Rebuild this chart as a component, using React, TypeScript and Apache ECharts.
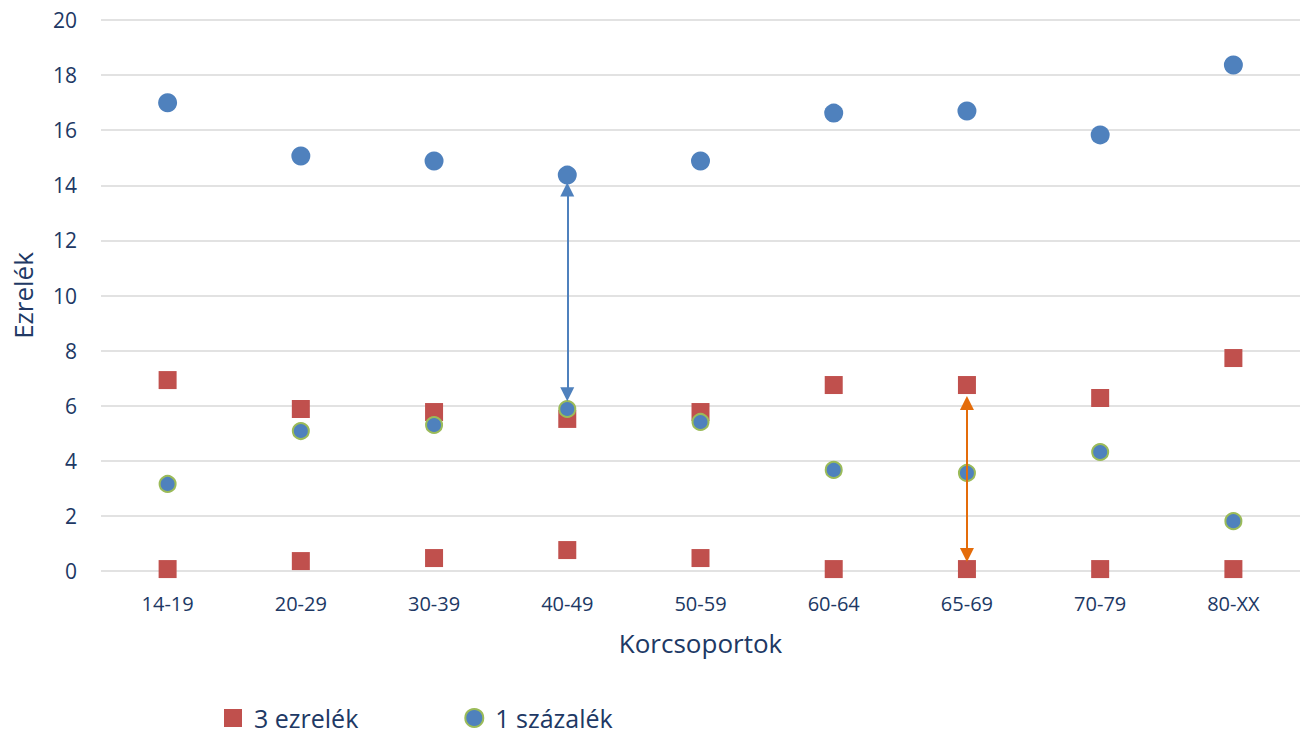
import React, { useEffect, useRef } from "react";
import * as echarts from "echarts";

const categories = ["14-19", "20-29", "30-39", "40-49", "50-59", "60-64", "65-69", "70-79", "80-XX"];
const ezrelekUpper = [6.93, 5.88, 5.77, 5.52, 5.77, 6.75, 6.75, 6.28, 7.73];
const ezrelekLower = [0.07, 0.36, 0.47, 0.76, 0.47, 0.07, 0.07, 0.07, 0.07];
const szazalekUpper = [17.0, 15.06, 14.88, 14.37, 14.88, 16.62, 16.7, 15.83, 18.37];
const szazalekLower = [3.16, 5.08, 5.3, 5.88, 5.41, 3.67, 3.56, 4.32, 1.81];
// arrow endpoints (centres of the arrow heads)
const blueArrow = { category: "40-49", from: 13.85, to: 6.42 };
const orangeArrow = { category: "65-69", from: 6.1, to: 0.58 };

const TEXT = "#203864";
const FONT = "'Open Sans', 'Noto Sans', sans-serif";

export default function App() {
  const ref = useRef<HTMLDivElement>(null);
  useEffect(() => {
    if (!ref.current) return;
    const chart = echarts.init(ref.current, undefined, { renderer: "svg" });
    const arrowLine = (a: any, color: string) => ({
      silent: true,
      symbol: ["triangle", "triangle"],
      symbolSize: [14, 14],
      label: { show: false },
      emphasis: { disabled: true },
      lineStyle: { color, width: 2, type: "solid", opacity: 1 },
      data: [[{ coord: [a.category, a.from] }, { coord: [a.category, a.to] }]],
    });
    chart.setOption({
      animation: false,
      textStyle: { fontFamily: FONT },
      grid: { left: 101, right: 0, top: 20, bottom: 165, containLabel: false },
      xAxis: {
        type: "category",
        data: categories,
        name: "Korcsoportok",
        nameLocation: "middle",
        nameGap: 59,
        nameTextStyle: { color: TEXT, fontSize: 26, fontFamily: FONT },
        axisLine: { show: false },
        axisTick: { show: false },
        axisLabel: { color: TEXT, fontSize: 20, margin: 22, fontFamily: FONT },
      },
      yAxis: {
        type: "value",
        min: 0,
        max: 20,
        interval: 2,
        name: "Ezrelék",
        nameLocation: "middle",
        nameGap: 65,
        nameTextStyle: { color: TEXT, fontSize: 26, fontFamily: FONT },
        axisLabel: { color: TEXT, fontSize: 21, margin: 24, fontFamily: FONT },
        splitLine: { lineStyle: { color: "#D9D9D9", width: 1.5 } },
        axisLine: { show: false },
        axisTick: { show: false },
      },
      legend: {
        left: 224,
        top: 704,
        itemWidth: 18,
        itemHeight: 18,
        itemGap: 106,
        padding: 0,
        data: ["3 ezrelék", "1 százalék"],
        textStyle: { color: TEXT, fontSize: 25, lineHeight: 28, fontFamily: FONT, padding: [0, 0, 0, 7] },
      },
      series: [
        {
          name: "3 ezrelék",
          type: "scatter",
          symbol: "rect",
          symbolSize: 18,
          itemStyle: { color: "#C0504D", opacity: 1 },
          data: ezrelekUpper,
        },
        {
          name: "3 ezrelék",
          type: "scatter",
          symbol: "rect",
          symbolSize: 18,
          itemStyle: { color: "#C0504D", opacity: 1 },
          data: ezrelekLower,
          markLine: arrowLine(orangeArrow, "#E46C0A"),
        },
        {
          name: "1 százalék",
          type: "scatter",
          symbol: "circle",
          symbolSize: 16,
          itemStyle: { color: "#4F81BD", borderColor: "#9BBB59", borderWidth: 2, opacity: 1 },
          data: szazalekLower,
        },
        {
          name: "1 százalék (felső)",
          type: "scatter",
          symbol: "circle",
          symbolSize: 19,
          itemStyle: { color: "#4F81BD", opacity: 1 },
          data: szazalekUpper,
          markLine: arrowLine(blueArrow, "#4F81BD"),
        },
      ],
    });
    return () => chart.dispose();
  }, []);
  return (
    <div
      ref={ref}
      style={{ position: "fixed", left: 0, top: 0, width: 1300, height: 736, background: "#fff" }}
    />
  );
}
